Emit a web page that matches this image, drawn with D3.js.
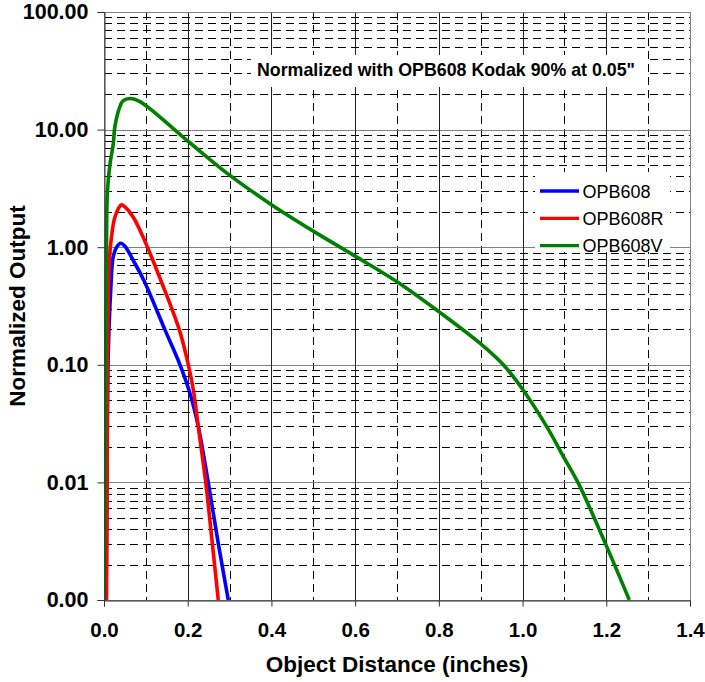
<!DOCTYPE html>
<html>
<head>
<meta charset="utf-8">
<script src="https://cdn.jsdelivr.net/npm/d3@7"></script>
<style>
  body { margin: 0; background: #fff; }
  svg { display: block; font-family: "Liberation Sans", Arial, sans-serif; }
</style>
</head>
<body>
<div class="chart"></div>
<script>
// values
const seriesNames = ["OPB608", "OPB608R", "OPB608V"];

const opb608X = [0.005, 0.007, 0.010, 0.016, 0.022, 0.030, 0.040, 0.050, 0.070, 0.0948, 0.1457, 0.1816, 0.2055, 0.2253, 0.249, 0.273, 0.297];
const opb608Y = [0.001, 0.01, 0.117, 0.43, 0.83, 1.0, 1.08, 1.02, 0.77, 0.526, 0.198, 0.1, 0.057, 0.0298, 0.01, 0.00303, 0.001];

const opb608RX = [0.006, 0.007, 0.008, 0.010, 0.013, 0.017, 0.025, 0.035, 0.042, 0.050, 0.070, 0.098, 0.1354, 0.180, 0.2015, 0.2135, 0.2253, 0.243, 0.2588, 0.273];
const opb608RY = [0.001, 0.005, 0.03, 0.35, 0.8, 1.15, 1.75, 2.15, 2.29, 2.2, 1.8, 1.12, 0.526, 0.198, 0.1, 0.061, 0.0298, 0.01, 0.00303, 0.001];

const opb608VX = [0.0, 0.002, 0.004, 0.006, 0.008, 0.014, 0.022, 0.026, 0.038, 0.046, 0.062, 0.086, 0.2, 0.3, 0.4, 0.5, 0.6, 0.707, 0.8, 0.8987, 0.954, 1.0, 1.0577, 1.1, 1.1335, 1.2, 1.255];
const opb608VY = [0.001, 0.01, 0.1, 1.0, 2.9, 5.0, 7.5, 10.6, 15.7, 17.6, 18.4, 17.3, 8.0, 4.1, 2.3, 1.37, 0.84, 0.49, 0.283, 0.152, 0.1, 0.062, 0.0298, 0.016, 0.0098, 0.0029, 0.001];

const xTicks = [0, 0.2, 0.4, 0.6, 0.8, 1.0, 1.2, 1.4];
const xMinor = [0.1, 0.3, 0.5, 0.7, 0.9, 1.1, 1.3];
const yTicks = [0.001, 0.01, 0.1, 1, 10, 100];

const colors = ["#0000ff", "#ff0000", "#008000"];
const note = "Normalized with OPB608 Kodak 90% at 0.05\"";

const series = [
  { name: seriesNames[0], xs: opb608X, ys: opb608Y },
  { name: seriesNames[1], xs: opb608RX, ys: opb608RY },
  { name: seriesNames[2], xs: opb608VX, ys: opb608VY }
];

const width = 705, height = 682;
const margin = { top: 12, right: 15, bottom: 82, left: 104 };

const x = d3.scaleLinear().domain([0, 1.4]).range([margin.left, width - margin.right]);
const y = d3.scaleLog().domain([0.001, 100]).range([height - margin.bottom, margin.top]);

const svg = d3.select(".chart").append("svg")
  .attr("width", width)
  .attr("height", height);

const px = v => Math.round(v) + 0.5;

// minor horizontal gridlines (2..9 in each decade)
let yMinor = [];
yTicks.slice(0, -1).forEach(d => {
  for (let k = 2; k <= 9; k++) yMinor.push(d * k);
});

const grid = svg.append("g");

grid.selectAll(".hminor")
  .data(yMinor)
  .join("line")
  .attr("x1", x(0)).attr("x2", x(1.4))
  .attr("y1", d => px(y(d))).attr("y2", d => px(y(d)))
  .attr("stroke", "#000")
  .attr("stroke-dasharray", "8,5");

grid.selectAll(".vminor")
  .data(xMinor)
  .join("line")
  .attr("x1", d => px(x(d))).attr("x2", d => px(x(d)))
  .attr("y1", y(100)).attr("y2", y(0.001))
  .attr("stroke", "#000")
  .attr("stroke-dasharray", "8,5");

grid.selectAll(".hmajor")
  .data(yTicks)
  .join("line")
  .attr("x1", x(0)).attr("x2", x(1.4))
  .attr("y1", d => px(y(d))).attr("y2", d => px(y(d)))
  .attr("stroke", "#808080");

grid.selectAll(".vmajor")
  .data(xTicks.slice(1, -1))
  .join("line")
  .attr("x1", d => px(x(d))).attr("x2", d => px(x(d)))
  .attr("y1", y(100)).attr("y2", y(0.001))
  .attr("stroke", "#222");

// frame
svg.append("rect")
  .attr("x", px(x(0))).attr("y", px(y(100)))
  .attr("width", Math.round(x(1.4)) - Math.round(x(0)))
  .attr("height", Math.round(y(0.001)) - Math.round(y(100)))
  .attr("fill", "none")
  .attr("stroke", "#808080");

// note box
svg.append("rect")
  .attr("x", 251).attr("y", 55)
  .attr("width", 396).attr("height", 32)
  .attr("fill", "#fff");

svg.append("text")
  .attr("x", 257).attr("y", 75.5)
  .attr("font-size", 17.8)
  .attr("font-weight", "bold")
  .text(note);

// curves
svg.append("clipPath").attr("id", "plot")
  .append("rect")
  .attr("x", x(0)).attr("y", y(100))
  .attr("width", x(1.4) - x(0)).attr("height", y(0.001) - y(100));

const line = d3.line()
  .x(d => x(d[0]))
  .y(d => y(d[1]))
  .curve(d3.curveCatmullRom.alpha(0.5));

svg.append("g").attr("clip-path", "url(#plot)")
  .selectAll("path")
  .data(series)
  .join("path")
  .attr("d", s => line(s.xs.map((v, i) => [v, s.ys[i]])))
  .attr("fill", "none")
  .attr("stroke", (s, i) => colors[i])
  .attr("stroke-width", 3.6)
  .attr("stroke-linejoin", "round");

// axes
const xAxis = svg.append("g")
  .attr("transform", `translate(0,${px(y(0.001))})`)
  .call(d3.axisBottom(x).tickValues(xTicks).tickFormat(d3.format(".1f")).tickSize(6).tickPadding(16));
xAxis.select(".domain").attr("stroke", "#333");
xAxis.selectAll(".tick line").attr("stroke", "#333");
xAxis.selectAll("text")
  .attr("font-size", 20.5).attr("font-weight", "bold")
  .attr("font-family", "Liberation Sans, Arial, sans-serif")
  .attr("fill", "#000");

const yAxis = svg.append("g")
  .attr("transform", `translate(${px(x(0))},0)`)
  .call(d3.axisLeft(y).tickValues(yTicks).tickFormat(d3.format(".2f")).tickSize(7).tickPadding(9));
yAxis.select(".domain").attr("stroke", "#333");
yAxis.selectAll(".tick line").attr("stroke", "#333");
yAxis.selectAll("text")
  .attr("font-size", 21.5).attr("font-weight", "bold")
  .attr("font-family", "Liberation Sans, Arial, sans-serif")
  .attr("fill", "#000");

// axis titles
svg.append("text")
  .attr("x", (x(0) + x(1.4)) / 2).attr("y", 672)
  .attr("text-anchor", "middle")
  .attr("font-size", 22.5).attr("font-weight", "bold")
  .text("Object Distance (inches)");

svg.append("text")
  .attr("transform", `translate(25,${(y(100) + y(0.001)) / 2}) rotate(-90)`)
  .attr("text-anchor", "middle")
  .attr("font-size", 22.5).attr("font-weight", "bold")
  .text("Normalized Output");

// legend
const legend = svg.append("g");
legend.append("rect")
  .attr("x", 535).attr("y", 172)
  .attr("width", 135).attr("height", 80)
  .attr("fill", "#fff");

const items = legend.selectAll(".item")
  .data(series)
  .join("g")
  .attr("transform", (s, i) => `translate(540,${191 + i * 27.3})`);

items.append("line")
  .attr("x1", 0).attr("x2", 39)
  .attr("stroke", (s, i) => colors[i])
  .attr("stroke-width", 3.3);

items.append("text")
  .attr("x", 42.5).attr("y", 6.5)
  .attr("font-size", 18)
  .text(s => s.name);
</script>
</body>
</html>
